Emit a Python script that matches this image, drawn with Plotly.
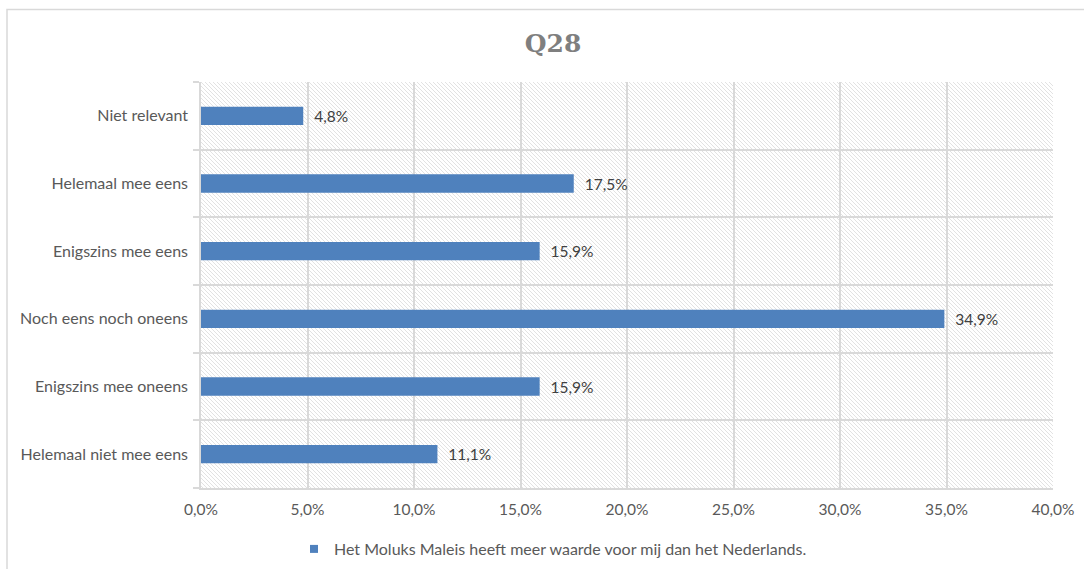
import urllib.parse
import plotly.graph_objects as go

# Answer categories (bottom to top) and their shares
categories = [
    "Helemaal niet mee eens",
    "Enigszins mee oneens",
    "Noch eens noch oneens",
    "Enigszins mee eens",
    "Helemaal mee eens",
    "Niet relevant",
]
shares = [0.111, 0.159, 0.349, 0.159, 0.175, 0.048]
series_name = "Het Moluks Maleis heeft meer waarde voor mij dan het Nederlands."
x_ticks = [0.0, 0.05, 0.10, 0.15, 0.20, 0.25, 0.30, 0.35, 0.40]

W, H = 1084, 569
L, R, T, B = 201, 31, 82, 81
PW, PH = W - L - R, H - T - B

BAR_BLUE = "#4f81bd"
GRID = "#d9d9d9"
TEXT = "#595959"
FONT = "Lato, Calibri, sans-serif"

# Light downward-diagonal hatch used as the plot-area fill
hatch_svg = (
    f'<svg xmlns="http://www.w3.org/2000/svg" width="{PW}" height="{PH}">'
    '<defs><pattern id="h" width="4" height="4" patternUnits="userSpaceOnUse">'
    '<path d="M-1,-1 L5,5 M-1,3 L1,5 M3,-1 L5,1" stroke="#e2e2e2" stroke-width="1"/>'
    '</pattern></defs>'
    f'<rect width="{PW}" height="{PH}" fill="#ffffff"/>'
    f'<rect width="{PW}" height="{PH}" fill="url(#h)"/></svg>'
)
hatch_uri = "data:image/svg+xml;charset=utf-8," + urllib.parse.quote(hatch_svg)

fig = go.Figure()

# bars with value labels
fig.add_trace(
    go.Bar(
        x=shares,
        y=categories,
        orientation="h",
        name=series_name,
        marker=dict(color=BAR_BLUE, line=dict(width=0)),
        texttemplate="\u00a0\u00a0%{x:.1%}",
        textposition="outside",
        textfont=dict(family=FONT, size=15.5, color="#404040"),
        cliponaxis=False,
        showlegend=False,
    )
)

# small square legend key for the series
fig.add_trace(
    go.Scatter(
        x=[None],
        y=[None],
        mode="markers",
        name=series_name,
        marker=dict(symbol="square", size=8, color=BAR_BLUE),
        showlegend=True,
    )
)

def px_x(px):
    return (px - L) / PW

def px_y(py):
    return (H - B - py) / PH

fig.update_layout(
    width=W,
    height=H,
    margin=dict(l=L, r=R, t=T, b=B, pad=0, autoexpand=False),
    paper_bgcolor="white",
    plot_bgcolor="rgba(0,0,0,0)",
    separators=",.",
    bargap=0.73,
    font=dict(family=FONT, size=15.5, color=TEXT),
    title=dict(
        text="<b>Q28</b>",
        font=dict(family="DejaVu Serif, serif", size=25, color="#7f7f7f"),
        x=px_x(553),
        xref="paper",
        xanchor="center",
        y=1 - 43 / H,
        yref="container",
        yanchor="middle",
    ),
    xaxis=dict(
        range=[0, 0.4],
        tickvals=x_ticks,
        tickformat=".1%",
        showgrid=True,
        gridcolor=GRID,
        gridwidth=1.5,
        showline=True,
        linecolor=GRID,
        linewidth=1.5,
        ticks="",
        zeroline=False,
        tickfont=dict(family=FONT, size=15.5, color=TEXT),
        ticklabelstandoff=7,
    ),
    yaxis=dict(
        categoryorder="array",
        categoryarray=categories,
        range=[-0.5, 5.5],
        tickson="boundaries",
        ticks="outside",
        ticklen=6,
        tickcolor=GRID,
        tickwidth=1.5,
        showgrid=True,
        gridcolor=GRID,
        gridwidth=1.5,
        showline=True,
        linecolor=GRID,
        linewidth=1.5,
        zeroline=False,
        tickfont=dict(family=FONT, size=16, color=TEXT),
        ticklabelstandoff=8,
    ),
    legend=dict(
        orientation="h",
        x=px_x(553),
        xanchor="center",
        y=px_y(549),
        yanchor="middle",
        font=dict(family=FONT, size=16, color=TEXT),
        bgcolor="rgba(0,0,0,0)",
    ),
    images=[
        dict(
            source=hatch_uri,
            xref="paper",
            yref="paper",
            x=0,
            y=1,
            sizex=1,
            sizey=1,
            xanchor="left",
            yanchor="top",
            sizing="stretch",
            layer="below",
        )
    ],
    shapes=[
        # outer chart frame (left and top edges inside the canvas)
        dict(
            type="rect",
            xref="paper",
            yref="paper",
            x0=px_x(7),
            x1=px_x(W + 10),
            y0=px_y(H + 10),
            y1=px_y(9.5),
            line=dict(color=GRID, width=1.5),
            fillcolor="rgba(0,0,0,0)",
            layer="below",
        )
    ],
)

fig.write_html("out.html")
